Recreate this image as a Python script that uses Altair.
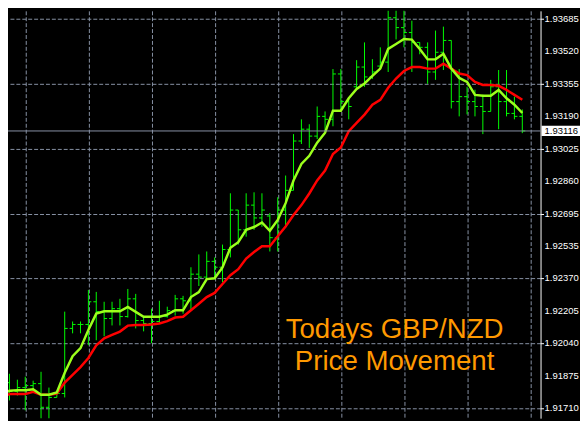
import altair as alt
import pandas as pd

# ---- data (GBP/NZD bars) ----
bar_index = list(range(67))
opens = [1.91790, 1.91840, 1.91795, 1.91815, 1.91825, 1.91835, 1.91715, 1.91765, 1.91785, 1.92115,
         1.92135, 1.92135, 1.92250, 1.92200, 1.92165, 1.92215, 1.92175, 1.92265, 1.92155, 1.92140,
         1.92150, 1.92175, 1.92205, 1.92265, 1.92255, 1.92390, 1.92375, 1.92455, 1.92425, 1.92515,
         1.92715, 1.92615, 1.92740, 1.92675, 1.92685, 1.92575, 1.92715, 1.92815, 1.93065, 1.93125,
         1.93090, 1.93190, 1.93175, 1.93405, 1.93265, 1.93340, 1.93440, 1.93390, 1.93445, 1.93465,
         1.93690, 1.93640, 1.93615, 1.93565, 1.93540, 1.93415, 1.93515, 1.93575, 1.93265, 1.93290,
         1.93265, 1.93240, 1.93215, 1.93340, 1.93265, 1.93205, 1.93190]
highs = [1.91870, 1.91885, 1.91855, 1.91870, 1.91850, 1.91895, 1.91815, 1.91800, 1.92200, 1.92150,
         1.92150, 1.92310, 1.92300, 1.92250, 1.92250, 1.92265, 1.92315, 1.92290, 1.92175, 1.92215,
         1.92255, 1.92225, 1.92285, 1.92280, 1.92425, 1.92490, 1.92505, 1.92475, 1.92540, 1.92800,
         1.92715, 1.92800, 1.92805, 1.92800, 1.92700, 1.92780, 1.92890, 1.93100, 1.93175, 1.93150,
         1.93240, 1.93215, 1.93430, 1.93430, 1.93280, 1.93475, 1.93565, 1.93480, 1.93540, 1.93730,
         1.93730, 1.93750, 1.93675, 1.93565, 1.93565, 1.93625, 1.93645, 1.93575, 1.93430, 1.93340,
         1.93325, 1.93300, 1.93375, 1.93425, 1.93425, 1.93290, 1.93225]
lows = [1.91730, 1.91750, 1.91775, 1.91700, 1.91800, 1.91640, 1.91640, 1.91765, 1.91765, 1.92090,
        1.92090, 1.92030, 1.92055, 1.92075, 1.92130, 1.92130, 1.92170, 1.92115, 1.92100, 1.92040,
        1.92140, 1.92170, 1.92180, 1.92190, 1.92205, 1.92330, 1.92365, 1.92365, 1.92350, 1.92475,
        1.92540, 1.92580, 1.92615, 1.92630, 1.92505, 1.92505, 1.92625, 1.92815, 1.93050, 1.93030,
        1.93075, 1.93115, 1.93140, 1.93215, 1.93175, 1.93325, 1.93340, 1.93380, 1.93435, 1.93415,
        1.93580, 1.93540, 1.93415, 1.93505, 1.93355, 1.93375, 1.93425, 1.93230, 1.93190, 1.93200,
        1.93190, 1.93100, 1.93215, 1.93125, 1.93190, 1.93175, 1.93105]
closes = [1.91840, 1.91795, 1.91815, 1.91825, 1.91835, 1.91715, 1.91765, 1.91785, 1.92115, 1.92135,
          1.92135, 1.92250, 1.92200, 1.92165, 1.92215, 1.92175, 1.92265, 1.92155, 1.92140, 1.92150,
          1.92175, 1.92205, 1.92265, 1.92255, 1.92390, 1.92375, 1.92455, 1.92425, 1.92515, 1.92715,
          1.92615, 1.92740, 1.92675, 1.92715, 1.92575, 1.92715, 1.92815, 1.93065, 1.93125, 1.93090,
          1.93190, 1.93175, 1.93405, 1.93265, 1.93240, 1.93440, 1.93390, 1.93415, 1.93465, 1.93690,
          1.93640, 1.93615, 1.93565, 1.93540, 1.93415, 1.93515, 1.93575, 1.93265, 1.93290, 1.93265,
          1.93240, 1.93215, 1.93340, 1.93265, 1.93205, 1.93190, 1.93116]
fast_ma = [1.91782, 1.91799, 1.91802, 1.91802, 1.91807, 1.91779, 1.91779, 1.91790, 1.91890, 1.91974,
           1.92015, 1.92107, 1.92190, 1.92202, 1.92202, 1.92202, 1.92224, 1.92199, 1.92174, 1.92174,
           1.92174, 1.92185, 1.92207, 1.92207, 1.92274, 1.92299, 1.92365, 1.92369, 1.92424, 1.92524,
           1.92552, 1.92615, 1.92629, 1.92652, 1.92610, 1.92665, 1.92750, 1.92865, 1.92949, 1.92990,
           1.93057, 1.93107, 1.93219, 1.93219, 1.93282, 1.93329, 1.93357, 1.93395, 1.93432, 1.93532,
           1.93557, 1.93582, 1.93579, 1.93532, 1.93479, 1.93479, 1.93507, 1.93432, 1.93385, 1.93365,
           1.93299, 1.93295, 1.93295, 1.93324, 1.93282, 1.93249, 1.93207]
slow_ma = [1.91765, 1.91782, 1.91782, 1.91782, 1.91794, 1.91779, 1.91779, 1.91785, 1.91840, 1.91879,
           1.91919, 1.91965, 1.92029, 1.92065, 1.92082, 1.92099, 1.92129, 1.92132, 1.92132, 1.92135,
           1.92140, 1.92152, 1.92170, 1.92174, 1.92207, 1.92240, 1.92274, 1.92295, 1.92340, 1.92385,
           1.92415, 1.92469, 1.92502, 1.92532, 1.92532, 1.92582, 1.92632, 1.92690, 1.92740, 1.92799,
           1.92865, 1.92915, 1.92999, 1.93032, 1.93115, 1.93157, 1.93199, 1.93249, 1.93274, 1.93335,
           1.93382, 1.93420, 1.93440, 1.93440, 1.93432, 1.93432, 1.93457, 1.93432, 1.93407, 1.93399,
           1.93365, 1.93349, 1.93349, 1.93345, 1.93324, 1.93299, 1.93274]

price_ticks = [1.93685, 1.93520, 1.93355, 1.93190, 1.93025, 1.92860, 1.92695,
               1.92535, 1.92370, 1.92205, 1.92040, 1.91875, 1.91710]
time_grid = list(range(3, 68, 4))
current_price = 1.93116
price_tag_span = [1.93142, 1.93090]
title_lines = ["Todays GBP/NZD", "Price Movement"]

# ---- styling ----
GRID = "#8892a6"
BAR = "#00ff00"
FAST = "#9cff1c"
SLOW = "#ff0000"
ORANGE = "#ff9900"
FONT = "Liberation Sans"

df = pd.DataFrame({"bar": bar_index, "open": opens, "high": highs, "low": lows,
                   "close": closes, "fast": fast_ma, "slow": slow_ma})
df["bar_left"] = df["bar"] - 0.375
df["bar_right"] = df["bar"] + 0.375

x_scale = alt.Scale(domain=[0.8125, 68.3125], nice=False, zero=False)
y_scale = alt.Scale(domain=[1.9166, 1.93725], nice=False, zero=False)

x_axis = alt.Axis(values=time_grid, labels=False, ticks=False, domain=False,
                  grid=True, gridColor=GRID, gridDash=[4, 2], gridOpacity=1, title=None)
y_axis = alt.Axis(orient="right", values=price_ticks, labels=False, grid=True,
                  gridColor=GRID, gridDash=[4, 2], gridOpacity=1,
                  domainColor="white", domainWidth=1, tickColor="white", tickSize=3,
                  title=None)

base = alt.Chart(df)
wicks = base.mark_rule(color=BAR, strokeWidth=1, clip=True).encode(
    x=alt.X("bar:Q", scale=x_scale, axis=x_axis),
    y=alt.Y("low:Q", scale=y_scale, axis=y_axis),
    y2="high:Q")
open_ticks = base.mark_rule(color=BAR, strokeWidth=1, clip=True).encode(
    x="bar_left:Q", x2="bar:Q", y="open:Q")
close_ticks = base.mark_rule(color=BAR, strokeWidth=1, clip=True).encode(
    x="bar:Q", x2="bar_right:Q", y="close:Q")
slow_line = base.mark_line(color=SLOW, strokeWidth=2.5, clip=True).encode(
    x="bar:Q", y="slow:Q")
fast_line = base.mark_line(color=FAST, strokeWidth=2.5, clip=True).encode(
    x="bar:Q", y="fast:Q")

# right-hand price labels
lab = pd.DataFrame({"p": price_ticks, "label": [f"{v:.5f}" for v in price_ticks]})
price_labels = alt.Chart(lab).mark_text(color="white", align="left", baseline="middle",
                                        font=FONT, fontSize=9.6).encode(
    x=alt.value(544), y="p:Q", text="label:N")

cp = pd.DataFrame({"p": [current_price], "label": [f"{current_price:.5f}"],
                   "top": [price_tag_span[0]], "bottom": [price_tag_span[1]]})
bid_line = alt.Chart(cp).mark_rule(color=GRID, strokeWidth=1).encode(y="p:Q")
tag_box = alt.Chart(cp).mark_rect(color="white").encode(
    x=alt.value(541), x2=alt.value(580), y="top:Q", y2="bottom:Q")
tag_text = alt.Chart(cp).mark_text(color="black", align="left", baseline="middle",
                                   font=FONT, fontSize=9.6).encode(
    x=alt.value(544), y="p:Q", text="label:N")

title_text = alt.Chart(pd.DataFrame({"t": [0]})).mark_text(
    text=title_lines, color=ORANGE, font=FONT, fontSize=28, align="center",
    baseline="alphabetic", lineHeight=32).encode(x=alt.value(392), y=alt.value(332))

chart = alt.layer(wicks, open_ticks, close_ticks, slow_line, fast_line,
                  bid_line, price_labels, tag_box, tag_text, title_text).properties(
    width=540, height=413,
    autosize=alt.AutoSizeParams(type="none"),
    padding={"left": 0, "top": 0, "right": 40, "bottom": 0},
    background="#000000",
).configure_view(strokeWidth=0)

chart.save("out.html", embed_options={"renderer": "svg", "actions": False})
